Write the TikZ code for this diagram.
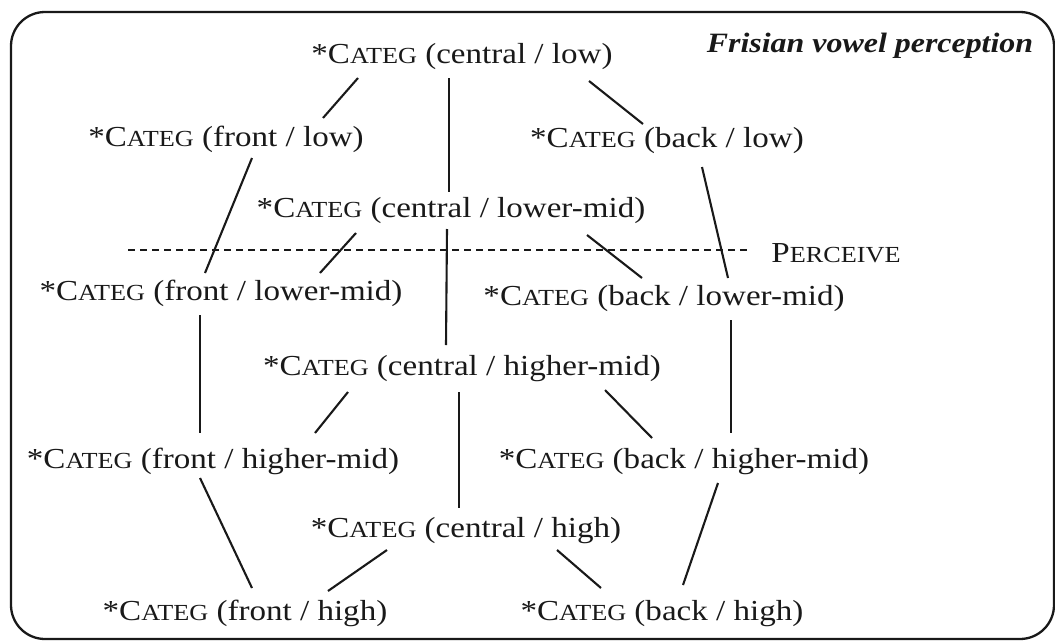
\documentclass[tikz,border=0pt]{standalone}
\usepackage{fontspec}
\setmainfont{Liberation Serif}[FakeStretch=1.14]
\usetikzlibrary{calc}
\newcommand{\SCx}[1]{{\fontsize{23}{23}\selectfont #1}}
\newcommand{\categ}{*C\SCx{ATEG}}
\begin{document}
\begin{tikzpicture}[x=1pt,y=-1pt,
  lab/.style={anchor=base,inner sep=0pt,text=black!90,font=\fontsize{29}{34}\selectfont},
  ttl/.style={anchor=base,inner sep=0pt,text=black!90,font=\fontsize{28}{34}\selectfont\bfseries\itshape},
  link/.style={line width=2.1pt,draw=black!90},
  dashline/.style={line width=1.5pt,draw=black!90,dash pattern=on 7pt off 5pt},
  frame/.style={line width=2.3pt,draw=black!90,rounded corners=34pt}]
\useasboundingbox (0,0) rectangle (1055,640);
\draw[frame] (11,12) rectangle (1054,639);
% nodes
\node[ttl] (title) at (870,52) {Frisian vowel perception};
\node[lab] (cl)  at (462,63)  {\categ{} (central / low)};
\node[lab] (fl)  at (226,146) {\categ{} (front / low)};
\node[lab] (bl)  at (667,147) {\categ{} (back / low)};
\node[lab] (clm) at (451,217) {\categ{} (central / lower-mid)};
\node[lab] (perc) at (836,262) {P\SCx{ERCEIVE}};
\node[lab] (flm) at (221,300) {\categ{} (front / lower-mid)};
\node[lab] (blm) at (664,305) {\categ{} (back / lower-mid)};
\node[lab] (chm) at (462,375) {\categ{} (central / higher-mid)};
\node[lab] (fhm) at (213,468) {\categ{} (front / higher-mid)};
\node[lab] (bhm) at (684,468) {\categ{} (back / higher-mid)};
\node[lab] (ch)  at (466,537) {\categ{} (central / high)};
\node[lab] (fh)  at (245,620) {\categ{} (front / high)};
\node[lab] (bh)  at (662,620) {\categ{} (back / high)};
% dashed line
\coordinate (dstart) at (128,250);
\draw[dashline] (dstart) -- ($(perc.base)+(-89,-12)$);
% connectors
\draw[link] ($(cl.base)+(-104,15)$) -- ($(fl.base)+(97,-28)$);
\draw[link] ($(cl.base)+(-13,15)$) -- ($(clm.base)+(-2,-25)$);
\draw[link] ($(cl.base)+(127,18)$) -- ($(bl.base)+(-24,-23)$);
\draw[link] ($(fl.base)+(26,12)$) -- ($(flm.base)+(-16,-27)$);
\draw[link] ($(clm.base)+(-95,16)$) -- ($(flm.base)+(99,-27)$);
\draw[link] ($(clm.base)+(-4,12)$) -- ($(chm.base)+(-16,-30)$);
\draw[link] ($(clm.base)+(136,18)$) -- ($(blm.base)+(-22,-27)$);
\draw[link] ($(bl.base)+(35,20)$) -- ($(blm.base)+(64,-27)$);
\draw[link] ($(flm.base)+(-21,15)$) -- ($(fhm.base)+(-13,-35)$);
\draw[link] ($(chm.base)+(-114,17)$) -- ($(fhm.base)+(102,-35)$);
\draw[link] ($(chm.base)+(-3,17)$) -- ($(ch.base)+(-7,-29)$);
\draw[link] ($(chm.base)+(143,15)$) -- ($(bhm.base)+(-32,-30)$);
\draw[link] ($(blm.base)+(67,15)$) -- ($(bhm.base)+(47,-35)$);
\draw[link] ($(fhm.base)+(-13,10)$) -- ($(fh.base)+(7,-32)$);
\draw[link] ($(bhm.base)+(34,15)$) -- ($(bh.base)+(21,-35)$);
\draw[link] ($(ch.base)+(-79,13)$) -- ($(fh.base)+(83,-29)$);
\draw[link] ($(ch.base)+(91,13)$) -- ($(bh.base)+(-61,-32)$);
\end{tikzpicture}
\end{document}
